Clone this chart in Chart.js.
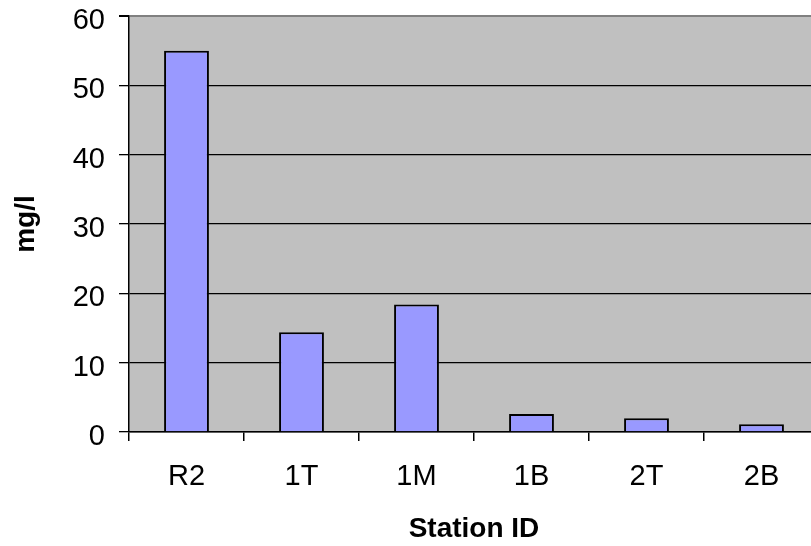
<!DOCTYPE html>
<html>
<head>
<meta charset="utf-8">
<script src="https://cdn.jsdelivr.net/npm/chart.js@4"></script>
<style>
  html, body { margin: 0; padding: 0; background: #fff; overflow: hidden; }
  #wrap { width: 830px; height: 546px; }
</style>
</head>
<body>
<div id="wrap"><canvas id="chart" width="830" height="546"></canvas></div>
<script>
var stations = ['R2', '1T', '1M', '1B', '2T', '2B'];
var values = [55.0, 14.4, 18.4, 2.6, 2.0, 1.1];
var yTicks = [0, 10, 20, 30, 40, 50, 60];

var plotBg = {
	id: 'plotBg',
	beforeDraw: function(chart) {
		var a = chart.chartArea, ctx = chart.ctx;
		ctx.save();
		ctx.fillStyle = '#C0C0C0';
		ctx.fillRect(a.left, a.top, a.right - a.left, a.bottom - a.top);
		ctx.restore();
	}
};

var font = 'Liberation Sans, Arial, sans-serif';

new Chart(document.getElementById('chart').getContext('2d'), {
	type: 'bar',
	data: {
		labels: stations,
		datasets: [{
			data: values,
			backgroundColor: '#9999FF',
			borderColor: '#000',
			borderWidth: 2,
			categoryPercentage: 1,
			barPercentage: 0.39
		}]
	},
	options: {
		responsive: false,
		animation: false,
		layout: { padding: { top: 16, right: 11, left: 0, bottom: 0 } },
		plugins: { legend: { display: false }, tooltip: { enabled: false } },
		scales: {
			x: {
				offset: true,
				grid: {
					offset: true,
					drawOnChartArea: false,
					drawTicks: true,
					tickLength: 9,
					tickColor: '#000',
					lineWidth: 1.5
				},
				border: { color: '#000', width: 1.5 },
				ticks: { color: '#000', font: { family: font, size: 29 }, padding: 19, maxRotation: 0 },
				title: { display: true, text: 'Station ID', color: '#000', font: { family: font, size: 28, weight: 'bold' }, padding: { top: 4, bottom: 0 } },
				afterFit: function(s) { s.height = 114; s.paddingLeft = 0; s.paddingRight = 0; }
			},
			y: {
				min: 0,
				max: 60,
				afterBuildTicks: function(s) { s.ticks = yTicks.map(function(v) { return { value: v }; }); },
				grid: {
					color: function(c) { return c.tick && c.tick.value === 60 ? '#808080' : '#000'; },
					lineWidth: function(c) { return c.tick && c.tick.value === 60 ? 2 : 1.3; },
					tickLength: 10,
					tickColor: '#000'
				},
				border: { color: '#000', width: 1.5 },
				ticks: { color: '#000', font: { family: font, size: 29 }, padding: 14, labelOffset: 5 },
				title: { display: true, text: 'mg/l', color: '#000', font: { family: font, size: 28, weight: 'bold' }, padding: { top: 9, bottom: 4 } },
				afterFit: function(s) { s.width = 129; s.paddingTop = 0; s.paddingBottom = 0; }
			}
		}
	},
	plugins: [plotBg]
});
</script>
</body>
</html>
